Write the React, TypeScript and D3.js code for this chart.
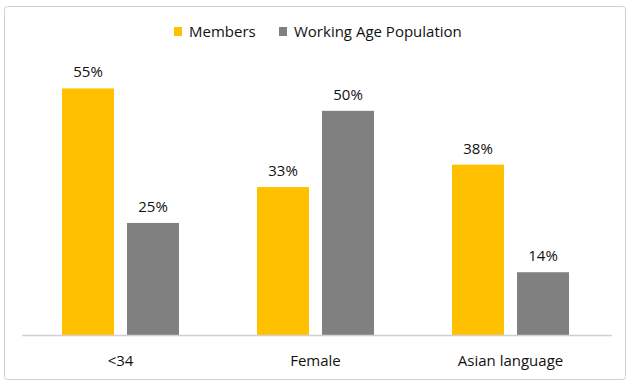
import React from "react";
import * as d3 from "d3";

const categories = ["<34", "Female", "Asian language"];
const seriesNames = ["Members", "Working Age Population"];
const members = [55, 33, 38];
const workingAge = [25, 50, 14];
const colors = ["#FFC000", "#808080"];

const W = 636;
const H = 390;
const FONT = "'Open Sans', sans-serif";

export default function App() {
  const x0 = d3.scaleBand<string>().domain(categories).range([23, 608]).paddingInner(0).paddingOuter(0);
  const x1 = d3.scaleBand<string>().domain(seriesNames).range([0, 117]).paddingInner(0.2);
  const y = d3.scaleLinear().domain([0, 60]).range([335, 66]);
  const values = [members, workingAge];
  const groupPad = (x0.bandwidth() - 117) / 2;

  return (
    <div style={{ position: "fixed", left: 0, top: 0 }}>
      <svg width={W} height={H} style={{ display: "block" }}>
        <rect x={0} y={0} width={W} height={H} fill="#fff" />
        <rect x={4.5} y={6.5} width={621} height={373} rx={3} fill="#fff" stroke="#d0d0d0" strokeWidth={1} />
        {/* legend */}
        <g fontFamily={FONT} fontSize={15} fill="#111">
          <rect x={174} y={27} width={8} height={9} fill={colors[0]} />
          <text x={189} y={37}>{seriesNames[0]}</text>
          <rect x={279} y={27} width={8} height={9} fill={colors[1]} />
          <text x={294} y={37}>{seriesNames[1]}</text>
        </g>
        {/* bars */}
        {categories.map((c, ci) => (
          <g key={c} transform={`translate(${(x0(c) as number) + groupPad},0)`}>
            {seriesNames.map((s, si) => {
              const v = values[si][ci];
              const bx = x1(s) as number;
              const bw = x1.bandwidth();
              return (
                <g key={s}>
                  <rect x={bx} y={y(v)} width={bw} height={y(0) - y(v)} fill={colors[si]} />
                  <text
                    x={bx + bw / 2}
                    y={y(v) - 11}
                    textAnchor="middle"
                    fontFamily={FONT}
                    fontSize={15}
                    fill="#111"
                  >
                    {v}%
                  </text>
                </g>
              );
            })}
          </g>
        ))}
        {/* axis line */}
        <line x1={22} x2={612} y1={335.5} y2={335.5} stroke="#d0d0d0" strokeWidth={1.5} />
        {/* category labels */}
        {categories.map((c) => (
          <text
            key={c}
            x={(x0(c) as number) + x0.bandwidth() / 2}
            y={366}
            textAnchor="middle"
            fontFamily={FONT}
            fontSize={15}
            fill="#111"
          >
            {c}
          </text>
        ))}
      </svg>
    </div>
  );
}
